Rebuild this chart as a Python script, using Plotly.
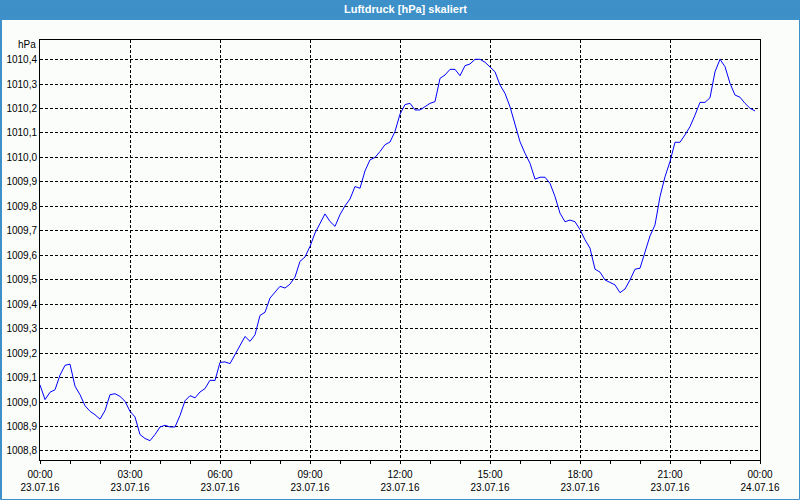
import pandas as pd
import plotly.graph_objects as go

# 10-minute readings, 23.07.16 00:00 .. 23:50
start_time = "2016-07-23 00:00"
pressure_hpa = [
    1009.070, 1009.010, 1009.040, 1009.050, 1009.110, 1009.150,  # 00
    1009.155, 1009.065, 1009.030, 1008.985, 1008.962, 1008.948,  # 01
    1008.930, 1008.965, 1009.030, 1009.034, 1009.023, 1009.003,  # 02
    1008.962, 1008.939, 1008.867, 1008.851, 1008.842, 1008.867,  # 03
    1008.898, 1008.905, 1008.898, 1008.898, 1008.945, 1009.005,  # 04
    1009.026, 1009.017, 1009.041, 1009.055, 1009.089, 1009.088,  # 05
    1009.162, 1009.164, 1009.157, 1009.194, 1009.235, 1009.268,  # 06
    1009.248, 1009.275, 1009.354, 1009.367, 1009.425, 1009.450,  # 07
    1009.473, 1009.466, 1009.482, 1009.511, 1009.575, 1009.593,  # 08
    1009.636, 1009.691, 1009.732, 1009.769, 1009.738, 1009.718,  # 09
    1009.766, 1009.802, 1009.830, 1009.881, 1009.874, 1009.945,  # 10
    1009.990, 1010.000, 1010.024, 1010.052, 1010.063, 1010.106,  # 11
    1010.177, 1010.216, 1010.221, 1010.194, 1010.194, 1010.207,  # 12
    1010.221, 1010.228, 1010.323, 1010.337, 1010.360, 1010.360,  # 13
    1010.334, 1010.375, 1010.382, 1010.401, 1010.401, 1010.389,  # 14
    1010.371, 1010.350, 1010.296, 1010.262, 1010.207, 1010.132,  # 15
    1010.064, 1010.017, 1009.976, 1009.911, 1009.919, 1009.919,  # 16
    1009.894, 1009.840, 1009.772, 1009.737, 1009.744, 1009.737,  # 17
    1009.705, 1009.663, 1009.629, 1009.543, 1009.531, 1009.499,  # 18
    1009.488, 1009.479, 1009.447, 1009.462, 1009.499, 1009.543,  # 19
    1009.547, 1009.618, 1009.679, 1009.724, 1009.840, 1009.921,  # 20
    1009.983, 1010.062, 1010.062, 1010.092, 1010.126, 1010.173,  # 21
    1010.225, 1010.225, 1010.244, 1010.350, 1010.401, 1010.371,  # 22
    1010.303, 1010.255, 1010.246, 1010.221, 1010.201, 1010.190,  # 23
]
times = pd.date_range(start_time, periods=len(pressure_hpa), freq="10min")

title_text = "Luftdruck [hPa] skaliert"
unit_text = "hPa"
x_range = ["2016-07-23 00:00", "2016-07-24 00:00"]
y_range = [1008.763, 1010.480]

FONT = "Liberation Sans, Arial, sans-serif"
BG = "#FBFDFB"
BAR = "#3D90C8"

fig = go.Figure()
fig.add_trace(go.Scatter(x=times, y=pressure_hpa, mode="lines",
                         line=dict(color="#0000FF", width=1),
                         hoverinfo="skip", showlegend=False))

L, R, T, B = 40, 40, 40, 40
W, H = 800, 500
pw, ph = W - L - R, H - T - B

def px_x(x):
    return (x - L) / pw

def px_y(y):
    return (H - B - y) / ph

fig.update_layout(
    width=W, height=H,
    margin=dict(l=L, r=R, t=T, b=B, pad=0, autoexpand=False),
    paper_bgcolor=BG, plot_bgcolor=BG,
    separators=",.",
    font=dict(family=FONT, size=10, color="#000000"),
    xaxis=dict(
        type="date", range=x_range, automargin=False,
        tick0="2016-07-23", dtick=3 * 3600 * 1000,
        tickformat="%H:%M<br>%d.%m.%y",
        ticks="outside", ticklen=3, tickcolor="#000000", tickwidth=1,
        ticklabelstandoff=2,
        showgrid=True, gridcolor="#000000", gridwidth=1, griddash="3px,2px",
        showline=True, linecolor="#000000", linewidth=1, mirror=True,
        zeroline=False,
        minor=dict(dtick=3600 * 1000, tick0="2016-07-23", ticks="outside",
                   ticklen=3, tickcolor="#000000", showgrid=False),
        tickfont=dict(family=FONT, size=10, color="#000000"),
    ),
    yaxis=dict(
        range=y_range, dtick=0.1, tick0=1008.8, tickformat=".1f",
        automargin=False,
        ticks="", showgrid=True, gridcolor="#000000", gridwidth=1,
        griddash="3px,2px",
        showline=True, linecolor="#000000", linewidth=1, mirror=True,
        zeroline=False,
        tickfont=dict(family=FONT, size=10, color="#000000"),
    ),
    shapes=[
        dict(type="rect", xref="paper", yref="paper", layer="below",
             x0=px_x(0), x1=px_x(800), y0=px_y(20), y1=px_y(0),
             fillcolor=BAR, line=dict(width=0)),
        dict(type="rect", xref="paper", yref="paper",
             x0=px_x(0.5), x1=px_x(799.5), y0=px_y(499.5), y1=px_y(10),
             fillcolor="rgba(0,0,0,0)", line=dict(color=BAR, width=1)),
        dict(type="line", xref="paper", yref="paper",
             x0=px_x(1.5), x1=px_x(1.5), y0=px_y(499.5), y1=px_y(10),
             line=dict(color=BAR, width=1)),
    ],
    annotations=[
        dict(text=title_text, xref="paper", yref="paper",
             x=px_x(405), y=px_y(9), xanchor="center", yanchor="middle",
             showarrow=False,
             font=dict(family=FONT, size=11, color="#FFFFFF", weight="bold")),
        dict(text=unit_text, xref="paper", yref="paper",
             x=px_x(38), y=px_y(45), xanchor="right", yanchor="middle",
             showarrow=False, font=dict(family=FONT, size=10, color="#000000")),
    ],
)

fig.write_html("out.html", config=dict(displayModeBar=False))
